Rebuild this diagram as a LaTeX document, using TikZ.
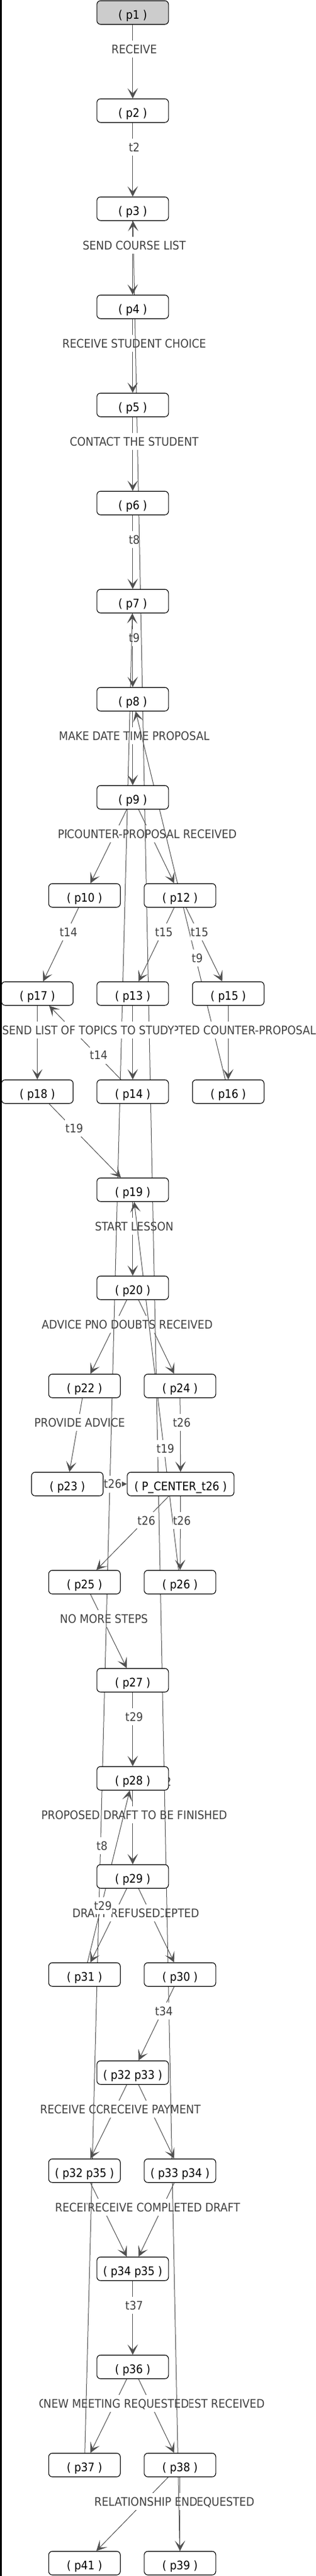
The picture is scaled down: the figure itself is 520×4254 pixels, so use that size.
\documentclass[tikz,border=0pt]{standalone}
\usepackage{fontspec}
\IfFontExistsTF{DejaVu Sans Condensed}
  {\setmainfont{DejaVu Sans Condensed}}
  {\setmainfont{DejaVu Sans}[FakeStretch=0.9]}
\usetikzlibrary{arrows.meta}
\pgfdeclarelayer{edges}
\pgfsetlayers{edges,main}
\definecolor{linegray}{RGB}{80,80,80}
\definecolor{textgray}{RGB}{64,64,64}
\newcommand\netfont{\fontsize{19.5pt}{22pt}\selectfont}

\begin{document}
\begin{tikzpicture}[x=1pt,y=-1pt,
    pbox/.style={draw=black,fill=white,rounded corners=6pt,line width=1.1pt,
        minimum width=118pt,minimum height=39pt,inner sep=0pt,
        font=\netfont,text height=20.6pt,text depth=0pt},
    flow/.style={draw=linegray,line width=1pt,-{Stealth[length=17pt,width=17pt,inset=8.5pt]}},
    tname/.style={fill=white,text=textgray,font=\netfont,inner xsep=0.5pt,inner ysep=7pt,
        text height=14.2pt,text depth=0pt,pos=0.33,xshift=2.5pt}]
    \useasboundingbox (0,0) rectangle (520,4254);
    \fill[black] (0,0) rectangle (2.5,4254);

    % places
    \node[pbox,fill=black!20] (p1) at (218.8, 20.7) {( p1 )};
    \node[pbox] (p2) at (218.8, 182.7) {( p2 )};
    \node[pbox] (p3) at (218.8, 344.7) {( p3 )};
    \node[pbox] (p4) at (218.8, 506.7) {( p4 )};
    \node[pbox] (p5) at (218.8, 668.7) {( p5 )};
    \node[pbox] (p6) at (218.8, 830.7) {( p6 )};
    \node[pbox] (p7) at (218.8, 992.7) {( p7 )};
    \node[pbox] (p8) at (218.8, 1154.7) {( p8 )};
    \node[pbox] (p9) at (218.8, 1316.7) {( p9 )};
    \node[pbox] (p10) at (139.3, 1478.7) {( p10 )};
    \node[pbox] (p12) at (296.8, 1478.7) {( p12 )};
    \node[pbox] (p17) at (61.5, 1640.7) {( p17 )};
    \node[pbox] (p13) at (218.8, 1640.7) {( p13 )};
    \node[pbox] (p15) at (376.3, 1640.7) {( p15 )};
    \node[pbox] (p18) at (61.5, 1802.7) {( p18 )};
    \node[pbox] (p14) at (218.8, 1802.7) {( p14 )};
    \node[pbox] (p16) at (376.3, 1802.7) {( p16 )};
    \node[pbox] (p19) at (218.8, 1964.7) {( p19 )};
    \node[pbox] (p20) at (218.8, 2126.7) {( p20 )};
    \node[pbox] (p22) at (139.3, 2288.7) {( p22 )};
    \node[pbox] (p24) at (296.8, 2288.7) {( p24 )};
    \node[pbox] (p23) at (111.0, 2450.7) {( p23 )};
    \node[pbox,minimum width=176pt] (pc) at (297.8, 2450.7) {( P\_CENTER\_t26 )};
    \node[pbox] (p25) at (139.3, 2612.7) {( p25 )};
    \node[pbox] (p26) at (296.8, 2612.7) {( p26 )};
    \node[pbox] (p27) at (218.8, 2774.7) {( p27 )};
    \node[pbox] (p28) at (218.8, 2936.7) {( p28 )};
    \node[pbox] (p29) at (218.8, 3098.7) {( p29 )};
    \node[pbox] (p31) at (139.3, 3260.7) {( p31 )};
    \node[pbox] (p30) at (296.8, 3260.7) {( p30 )};
    \node[pbox] (p32p33) at (218.8, 3422.7) {( p32 p33 )};
    \node[pbox] (p32p35) at (139.3, 3584.7) {( p32 p35 )};
    \node[pbox] (p33p34) at (296.8, 3584.7) {( p33 p34 )};
    \node[pbox] (p34p35) at (218.8, 3746.7) {( p34 p35 )};
    \node[pbox] (p36) at (218.8, 3908.7) {( p36 )};
    \node[pbox] (p37) at (139.3, 4070.7) {( p37 )};
    \node[pbox] (p38) at (296.8, 4070.7) {( p38 )};
    \node[pbox] (p41) at (139.3, 4232.7) {( p41 )};
    \node[pbox] (p39) at (296.8, 4232.7) {( p39 )};

    \begin{pgfonlayer}{edges}
    % labels that the long loops run over
    \draw[flow] (p4) -- node[tname] {RECEIVE STUDENT CHOICE} (p5);
    \draw[flow] (p6) -- node[tname] {t8} (p7);
    \draw[flow] (p7) -- node[tname] {t9} (p8);
    \draw[flow] (p8) -- node[tname] {MAKE DATE TIME PROPOSAL} (p9);
    \draw[flow] (p9) -- node[tname] {PROPOSAL ACCEPTED} (p10);
    \draw[flow] (p9) -- node[tname] {COUNTER-PROPOSAL RECEIVED} (p12);
    \draw[flow] (p19) -- node[tname] {START LESSON} (p20);
    \draw[flow] (p20) -- node[tname] {ADVICE PETITION RECEIVED} (p22);
    \draw[flow] (p20) -- node[tname] {NO DOUBTS RECEIVED} (p24);
    \draw[flow] (p22) -- node[tname] {PROVIDE ADVICE} (p23);
    \draw[flow] (p25) -- node[tname] {NO MORE STEPS} (p27);
    \draw[flow] (p28) -- node[tname] {PROPOSED DRAFT TO BE FINISHED} (p29);
    \draw[flow] (p29) -- node[tname] {DRAFT ACCEPTED} (p30);
    \draw[flow] (p29) -- node[tname] {DRAFT REFUSED} (p31);
    \draw[flow] (p32p33) -- node[tname] {RECEIVE COMPLETED DRAFT} (p32p35);
    \draw[flow] (p32p33) -- node[tname] {RECEIVE PAYMENT} (p33p34);
    \draw[flow] (p32p35) -- node[tname] {RECEIVE PAYMENT} (p34p35);
    \draw[flow] (p33p34) -- node[tname] {RECEIVE COMPLETED DRAFT} (p34p35);
    \draw[flow] (p36) -- node[tname] {CLOSE RELATIONSHIP REQUEST RECEIVED} (p38);
    \draw[flow] (p36) -- node[tname] {NEW MEETING REQUESTED} (p37);
    \draw[flow] (p38) -- node[tname] {NEW MEETING REQUESTED} (p39);
    \draw[flow] (p38) -- node[tname] {RELATIONSHIP END} (p41);

    % long loops back up
    \draw[flow] (p39) -- node[tname] {t2} (p3);
    \draw[flow] (p37) -- node[tname] {t8} (p7);
    \draw[flow] (p16) -- node[tname] {t9} (p8);
    \draw[flow] (p26) -- node[tname] {t19} (p19);
    \draw[flow] (p14) -- node[tname] {t14} (p17);
    \draw[flow] (p31) -- node[tname] {t29} (p28);

    % labels lying over the loops
    \draw[flow] (p1) -- node[tname] {RECEIVE} (p2);
    \draw[flow] (p2) -- node[tname] {t2} (p3);
    \draw[flow] (p3) -- node[tname] {SEND COURSE LIST} (p4);
    \draw[flow] (p5) -- node[tname] {CONTACT THE STUDENT} (p6);
    \draw[flow] (p10) -- node[tname] {t14} (p17);
    \draw[flow] (p12) -- node[tname] {t15} (p13);
    \draw[flow] (p12) -- node[tname] {t15} (p15);
    \draw[flow] (p13) -- (p14);
    \draw[flow] (p15) -- node[tname] {ACCEPTED COUNTER-PROPOSAL} (p16);
    \draw[flow] (p17) -- node[tname,anchor=west,xshift=-61.3pt] {SEND LIST OF TOPICS TO STUDY} (p18);
    \draw[flow] (p18) -- node[tname] {t19} (p19);
    \draw[flow] (p24) -- node[tname] {t26} (pc);
    \draw[flow] (p23) -- node[tname] {t26} (pc);
    \draw[flow] (pc) -- node[tname] {t26} (p25);
    \draw[flow] (pc) -- node[tname] {t26} (p26);
    \draw[flow] (p27) -- node[tname] {t29} (p28);
    \draw[flow] (p30) -- node[tname] {t34} (p32p33);
    \draw[flow] (p34p35) -- node[tname] {t37} (p36);
    \end{pgfonlayer}
\end{tikzpicture}
\end{document}
